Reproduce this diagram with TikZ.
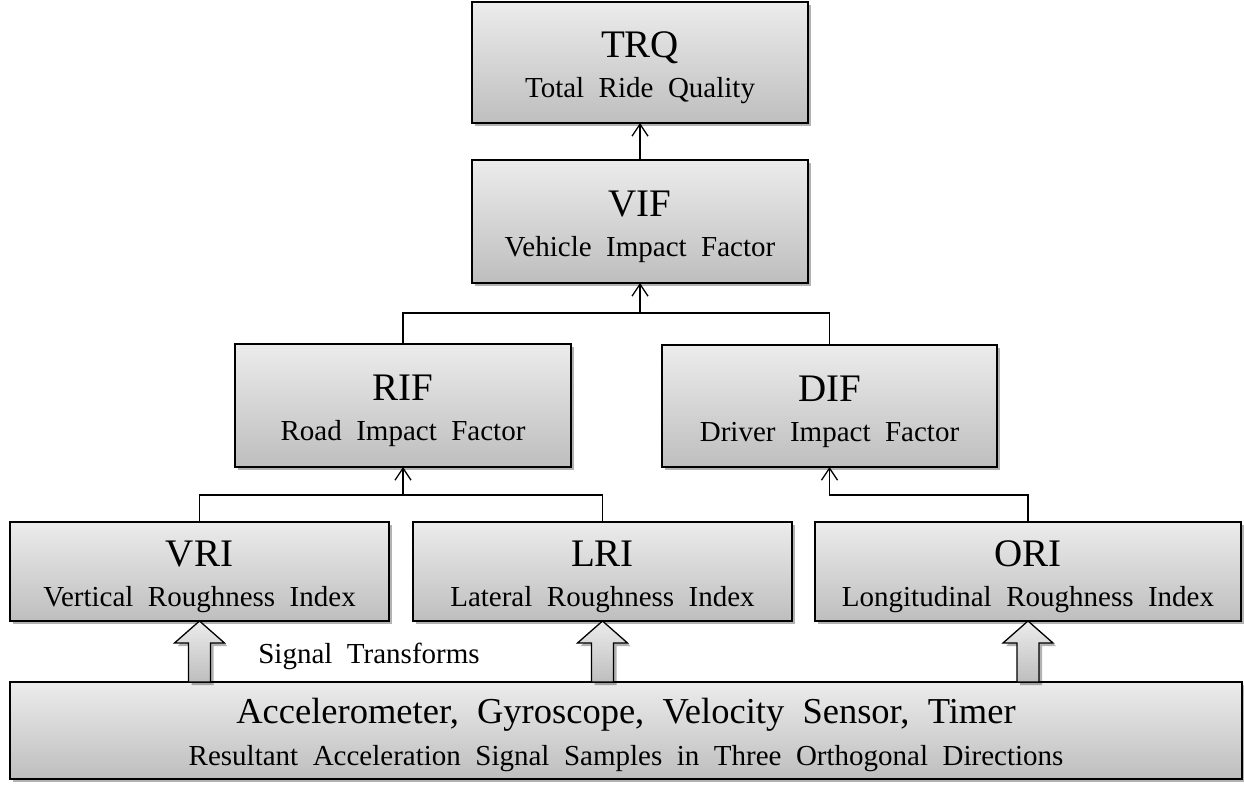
\documentclass[tikz,border=0pt]{standalone}
\usepackage{fontspec}
\setmainfont{Liberation Serif}[WordSpace=2]
\usetikzlibrary{arrows.meta,shadows,calc}
\definecolor{boxtop}{RGB}{236,236,236}
\definecolor{boxbot}{RGB}{190,190,190}
\tikzset{
  rqbox/.style={draw=black, line width=1.6pt, rectangle, inner sep=0pt, outer sep=0pt,
    top color=boxtop, bottom color=boxbot,
    drop shadow={shadow xshift=3pt, shadow yshift=-3pt, fill=black, opacity=0.3}},
  ttl/.style={font=\fontsize{39}{41}\selectfont, inner sep=0pt},
  subttl/.style={font=\fontsize{29}{31}\selectfont, inner sep=0pt},
  conn/.style={draw=black, line width=1.3pt},
  arr/.style={-{Straight Barb[length=12pt,width=16pt,line width=1.3pt]}},
  blockarrow/.style={draw=black, line width=1.3pt, top color=boxtop, bottom color=boxbot,
    drop shadow={shadow xshift=3pt, shadow yshift=-3pt, fill=black, opacity=0.3}}
}
\newcommand\rqnode[7]{%
  \node[rqbox, minimum width=#4pt, minimum height=#5pt] (#1) at (#2,#3) {};
  \node[ttl, anchor=base] (#1-t) at (#2,#3-5) {#6};
  \node[subttl, anchor=base] (#1-s) at (#2,#3+35) {#7};
}
\begin{document}
\begin{tikzpicture}[x=1pt,y=-1pt]
\useasboundingbox (0,0) rectangle (1244,786);
% boxes
\rqnode{trq}{640}{62.5}{336}{121}{TRQ}{Total Ride Quality}
\rqnode{vif}{640}{221.5}{336}{123}{VIF}{Vehicle Impact Factor}
\rqnode{rif}{403}{405.5}{336}{123}{RIF}{Road Impact Factor}
\rqnode{dif}{829.5}{406}{335}{122}{DIF}{Driver Impact Factor}
\rqnode{vri}{199.5}{571.5}{379}{99}{VRI}{Vertical Roughness Index}
\rqnode{lri}{602.5}{571.5}{379}{99}{LRI}{Lateral Roughness Index}
\rqnode{ori}{1028}{571.5}{426}{99}{ORI}{Longitudinal Roughness Index}
\node[rqbox, minimum width=1232pt, minimum height=97pt] (bot) at (626,730.5) {};
\node[ttl, font=\fontsize{36.5}{38}\selectfont, anchor=base] (bot-t) at (626,723) {Accelerometer, Gyroscope, Velocity Sensor, Timer};
\node[subttl, anchor=base] (bot-s) at (626,765) {Resultant Acceleration Signal Samples in Three Orthogonal Directions};
\node[subttl, anchor=base] (sig) at (369,663) {Signal Transforms};
% junctions
\coordinate (j1) at (640,313);
\coordinate (j2) at (403,495);
\coordinate (j3) at (829.5,495);
% connectors
\draw[conn,arr] (vif.north) -- (trq.south);
\draw[conn] (rif.north) |- (j1) -| (dif.north);
\draw[conn,arr] (j1) -- (vif.south);
\draw[conn] (vri.north) |- (j2) -| (lri.north);
\draw[conn,arr] (j2) -- (rif.south);
\draw[conn,arr] (ori.north) |- (j3) -- (dif.south);
% block arrows
\foreach \n in {vri,lri,ori}{
  \path[blockarrow] (\n.south) -- ++(25,22) -- ++(-14,0) -- ++(0,39) -- ++(-22,0) -- ++(0,-39) -- ++(-14,0) -- cycle;
}
\end{tikzpicture}
\end{document}
